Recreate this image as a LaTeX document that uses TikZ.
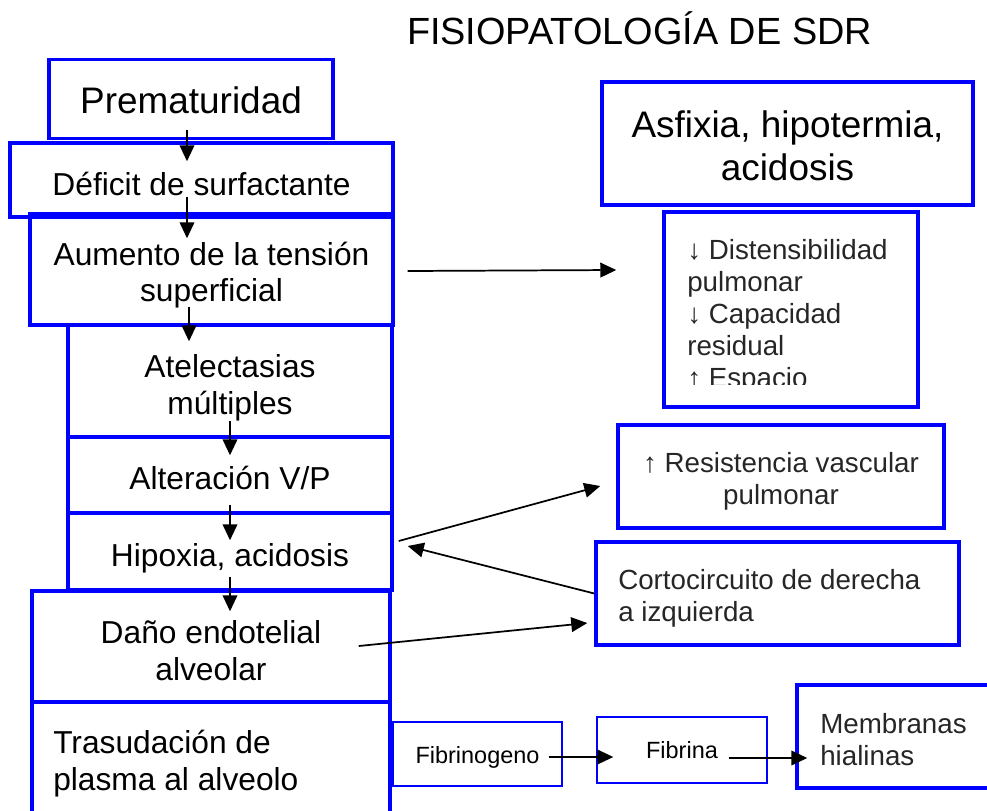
\documentclass[tikz,border=0pt]{standalone}
\usepackage{fontspec}
\setmainfont{Liberation Sans}
\usetikzlibrary{arrows.meta,calc}

\tikzset{
  caja/.style={draw=blue, line width=2.6pt, rectangle, inner sep=0pt},
  cajafina/.style={draw=blue, line width=1pt, rectangle, inner sep=0pt},
  tam/.style 2 args={minimum width=#1*0.75pt, minimum height=#2*0.75pt},
  texto/.style={inner sep=0pt, align=center},
  izq/.style={inner sep=0pt, align=left, anchor=north west},
  flecha/.style={-{Triangle[length=12pt,width=11pt]}, line width=1.3pt},
  titulo/.style={font=\fontsize{28.4}{32.6}\selectfont},
  grande/.style={font=\fontsize{27.7}{31.9}\selectfont},
  media/.style={font=\fontsize{23.8}{27.4}\selectfont},
  chica/.style={font=\fontsize{20.8}{24}\selectfont, text=black!85},
  mini/.style={font=\fontsize{17.6}{20}\selectfont}
}

\begin{document}
\begin{tikzpicture}[x=0.75pt,y=-0.75pt]
        \useasboundingbox (0,0) rectangle (987,810);
        \clip (0,0) rectangle (987,810);

        \node[titulo, anchor=base](tit) at (639.5,44) {FISIOPATOLOGÍA DE SDR};

        \node[caja, tam={284}{79}](prem) at (191,99) {};
        \node[caja, tam={383}{74}](defi) at (201.5,180) {};
        \node[caja, tam={363}{111}](aum) at (211.5,269.5) {};
        \node[caja, tam={324}{112}](atel) at (230,381) {};
        \node[caja, tam={324}{76}](alter) at (230,475) {};
        \node[caja, tam={324}{77}](hipo) at (230,551.5) {};
        \node[caja, tam={358}{111}](dano) at (211,646.5) {};
        \node[caja, tam={358}{128}](tras) at (211,766) {};

        \node[texto, grande](premtxt) at ($(prem)+(0,1)$) {Prematuridad};
        \node[texto, media](defitxt) at ($(defi)+(0,4)$) {Déficit de surfactante};
        \node[texto, media](aumtxt) at ($(aum)+(0,5.5)$) {Aumento de la tensión\\superficial};
        \node[texto, media](ateltxt) at ($(atel)+(0,7)$) {Atelectasias\\múltiples};
        \node[texto, media](altertxt) at ($(alter)+(0,3)$) {Alteración V/P};
        \node[texto, media](hipotxt) at ($(hipo)+(0,7)$) {Hipoxia, acidosis};
        \node[texto, media](danotxt) at ($(dano)+(0,4)$) {Daño endotelial\\alveolar};
        \node[izq, media](trastxt) at (53,730) {Trasudación de\\plasma al alveolo};

        \node[caja, tam={371}{123}](asf) at (787.5,143.5) {};
        \node[texto, grande](asftxt) at ($(asf)+(0,2.5)$) {Asfixia, hipotermia,\\acidosis};
        \node[caja, tam={254}{195}](dist) at (791,309.5) {};
        \begin{scope}
        \clip (664,212) rectangle (918,384);
        \node[izq, chica](disttxt) at (687,239) {↓ Distensibilidad\\pulmonar\\↓ Capacidad\\residual\\↑ Espacio};
        \end{scope}
        \node[caja, tam={326}{103}](res) at (781,476.5) {};
        \node[texto, chica](restxt) at ($(res)+(0,5)$) {↑ Resistencia vascular\\pulmonar};
        \node[caja, tam={363}{103}](cort) at (777.5,593.5) {};
        \node[izq, chica](corttxt) at (618,569) {Cortocircuito de derecha\\a izquierda};

        \node[cajafina, tam={169}{64}](fibg) at (477.5,754) {};
        \node[texto, mini](fibgtxt) at ($(fibg)+(0,3)$) {Fibrinogeno};
        \node[cajafina, tam={170}{66}](fibr) at (682,750) {};
        \node[texto, mini](fibrtxt) at (fibr) {Fibrina};
        \node[caja, tam={203}{103}](memb) at (898.5,736.5) {};
        \node[izq, chica](membtxt) at (820,713) {Membranas\\hialinas};

        \draw[flecha] ($(prem.south)+(-4,-10)$) -- ($(defi.north)+(-14.5,20)$);
        \draw[flecha] ($(defi.south)+(-14.5,-22)$) -- ($(aum.north)+(-24.5,26)$);
        \draw[flecha] ($(aum.south)+(-22.5,-20)$) -- ($(atel.north)+(-41,18)$);
        \draw[flecha] ($(atel.south)+(0,-18)$) -- ($(alter.north)+(0,20)$);
        \draw[flecha] ($(alter.south)+(0,-10)$) -- ($(hipo.north)+(0,29)$);
        \draw[flecha] ($(hipo.south)+(0,-15)$) -- ($(dano.north)+(19,22)$);

        \draw[flecha] ($(aum.east)+(13,1.5)$) -- ($(dist.west)+(-46,-39.5)$);
        \draw[flecha] ($(hipo.east)+(5,-10.5)$) -- ($(res.west)+(-16,9.5)$);
        \draw[flecha] (cort.west) -- ($(hipo.east)+(14,-5.5)$);
        \draw[flecha] ($(dano.east)+(-33,-0.5)$) -- ($(cort.west)+(-7,29.5)$);
        \draw[flecha] ($(fibg.east)+(-14,3)$) -- ($(fibr.west)+(17,7)$);
        \draw[flecha] ($(fibr.east)+(-39,8)$) -- ($(memb.west)+(12,21.5)$);
\end{tikzpicture}
\end{document}
